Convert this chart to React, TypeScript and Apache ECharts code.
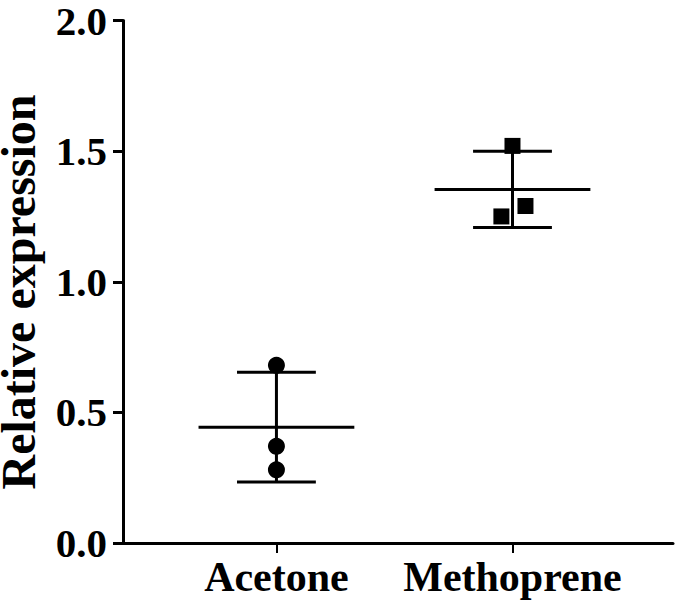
import React, { useEffect, useRef } from "react";
import * as echarts from "echarts";

const categories = ["Acetone", "Methoprene"];
const categoryPositions = [1, 2];
const acetoneValues = [0.68, 0.37, 0.28];
const acetoneOffsets = [0, 0, 0];
const methopreneValues = [1.52, 1.29, 1.25];
const methopreneOffsets = [0, 0.055, -0.047];
const yTicks = [0, 0.5, 1.0, 1.5, 2.0];

const mean = (a: number[]) => a.reduce((s, v) => s + v, 0) / a.length;
const sd = (a: number[]) => {
  const m = mean(a);
  return Math.sqrt(a.reduce((s, v) => s + (v - m) * (v - m), 0) / (a.length - 1));
};

const FONT = "'Liberation Serif', 'Times New Roman', serif";

export default function App() {
  const ref = useRef<HTMLDivElement>(null);
  useEffect(() => {
    if (!ref.current) return;
    const chart = echarts.init(ref.current, null, { renderer: "svg" });
    const groups = [acetoneValues, methopreneValues];
    const summary = groups.map((g, i) => [categoryPositions[i], mean(g), sd(g)]);
    chart.setOption({
      animation: false,
      backgroundColor: "#ffffff",
      grid: { left: 123, right: 2, top: 16, bottom: 65, containLabel: false },
      xAxis: {
        type: "value",
        min: 0.35,
        max: 2.68,
        splitLine: { show: false },
        axisLine: { show: true, onZero: false, lineStyle: { color: "#000", width: 3 } },
        axisTick: {
          show: true,
          customValues: categoryPositions,
          length: 10,
          lineStyle: { color: "#000", width: 2 },
        },
        axisLabel: {
          show: true,
          customValues: categoryPositions,
          formatter: (v: number) => categories[Math.round(v) - 1] ?? "",
          fontFamily: FONT,
          fontWeight: "bold",
          fontSize: 42,
          lineHeight: 40,
          color: "#000",
          margin: 14,
        },
      },
      yAxis: {
        type: "value",
        min: 0,
        max: 2,
        interval: 0.5,
        splitLine: { show: false },
        axisLine: { show: true, lineStyle: { color: "#000", width: 3 } },
        axisTick: { show: true, length: 10, lineStyle: { color: "#000", width: 3 } },
        axisLabel: {
          formatter: (v: number) => (yTicks.includes(v) ? v.toFixed(1) : ""),
          fontFamily: FONT,
          fontWeight: "bold",
          fontSize: 41,
          lineHeight: 30,
          color: "#000",
          margin: 16,
        },
      },
      graphic: [
        {
          type: "text",
          x: 18,
          y: 292,
          rotation: Math.PI / 2,
          style: {
            text: "Relative expression",
            fontFamily: FONT,
            fontWeight: "bold",
            fontSize: 48,
            lineHeight: 34,
            fill: "#000",
            textAlign: "center",
            textVerticalAlign: "middle",
          },
        },
      ],
      series: [
        {
          type: "custom",
          data: summary,
          encode: { x: 0, y: 1 },
          renderItem: (params: any, api: any) => {
            const x = api.value(0);
            const m = api.value(1);
            const s = api.value(2);
            const meanHalf = 0.33;
            const capHalf = 0.167;
            const style = { stroke: "#000", lineWidth: 3 };
            const seg = (x1: number, y1: number, x2: number, y2: number) => {
              const p1 = api.coord([x1, y1]);
              const p2 = api.coord([x2, y2]);
              return {
                type: "line",
                shape: { x1: p1[0], y1: p1[1], x2: p2[0], y2: p2[1] },
                style,
              };
            };
            return {
              type: "group",
              children: [
                seg(x - meanHalf, m, x + meanHalf, m),
                seg(x, m - s, x, m + s),
                seg(x - capHalf, m + s, x + capHalf, m + s),
                seg(x - capHalf, m - s, x + capHalf, m - s),
              ],
            };
          },
          z: 1,
        },
        {
          type: "scatter",
          name: categories[0],
          symbol: "circle",
          symbolSize: 17,
          itemStyle: { color: "#000", opacity: 1 },
          data: acetoneValues.map((v, i) => [categoryPositions[0] + acetoneOffsets[i], v]),
          z: 2,
        },
        {
          type: "scatter",
          name: categories[1],
          symbol: "rect",
          symbolSize: 16,
          itemStyle: { color: "#000", opacity: 1 },
          data: methopreneValues.map((v, i) => [categoryPositions[1] + methopreneOffsets[i], v]),
          z: 2,
        },
      ],
    });
    return () => chart.dispose();
  }, []);
  return (
    <div
      ref={ref}
      style={{ position: "fixed", left: 0, top: 0, width: 675, height: 608, background: "#fff" }}
    />
  );
}
